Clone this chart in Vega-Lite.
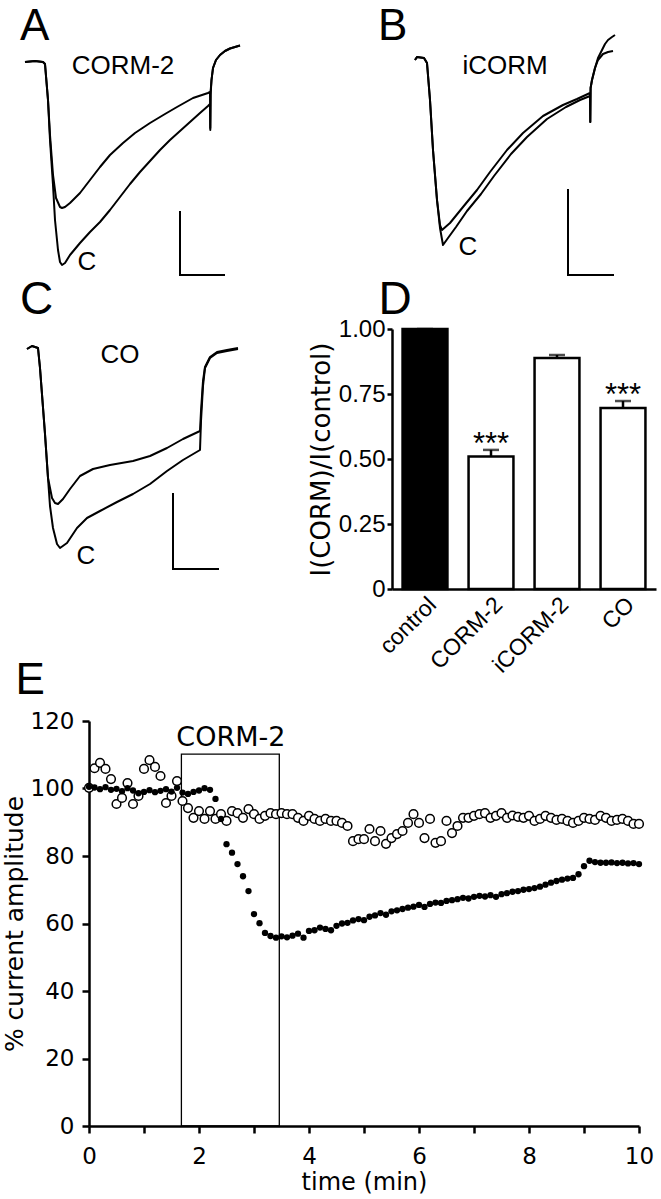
{
"$schema":"https://vega.github.io/schema/vega-lite/v6.json",
"padding":0,
"spacing":0,
"config":{
 "view":{"stroke":null},
 "axis":{"grid":false,"domainColor":"black","tickColor":"black","labelColor":"black","titleColor":"black","titleFontWeight":"normal"}
},
"datasets":{
 "ta":[
  {"s":"control","t":0,"i":0},{"s":"control","t":20,"i":2},{"s":"control","t":36,"i":0},{"s":"control","t":40,"i":-4},{"s":"control","t":46,"i":-76},{"s":"control","t":50,"i":-156},{"s":"control","t":56,"i":-246},{"s":"control","t":60,"i":-316},{"s":"control","t":66,"i":-376},{"s":"control","t":70,"i":-400},{"s":"control","t":74,"i":-406},{"s":"control","t":80,"i":-402},{"s":"control","t":90,"i":-386},{"s":"control","t":110,"i":-362},{"s":"control","t":130,"i":-340},{"s":"control","t":150,"i":-320},{"s":"control","t":170,"i":-296},{"s":"control","t":190,"i":-270},{"s":"control","t":210,"i":-244},{"s":"control","t":230,"i":-220},{"s":"control","t":250,"i":-198},{"s":"control","t":270,"i":-176},{"s":"control","t":290,"i":-156},{"s":"control","t":310,"i":-138},{"s":"control","t":330,"i":-120},{"s":"control","t":350,"i":-102},{"s":"control","t":366,"i":-88},{"s":"control","t":370,"i":-84},{"s":"control","t":370.6,"i":-136},{"s":"control","t":371.2,"i":-66},{"s":"control","t":373,"i":-36},{"s":"control","t":376,"i":-12},{"s":"control","t":382,"i":4},{"s":"control","t":390,"i":14},{"s":"control","t":400,"i":22},{"s":"control","t":410,"i":27},{"s":"control","t":420,"i":30},{"s":"control","t":430,"i":33},
  {"s":"CORM-2","t":0,"i":0},{"s":"CORM-2","t":20,"i":2},{"s":"CORM-2","t":36,"i":0},{"s":"CORM-2","t":40,"i":-4},{"s":"CORM-2","t":46,"i":-76},{"s":"CORM-2","t":50,"i":-146},{"s":"CORM-2","t":56,"i":-226},{"s":"CORM-2","t":62,"i":-272},{"s":"CORM-2","t":70,"i":-290},{"s":"CORM-2","t":74,"i":-292},{"s":"CORM-2","t":80,"i":-290},{"s":"CORM-2","t":90,"i":-282},{"s":"CORM-2","t":110,"i":-262},{"s":"CORM-2","t":130,"i":-236},{"s":"CORM-2","t":150,"i":-210},{"s":"CORM-2","t":170,"i":-186},{"s":"CORM-2","t":196,"i":-162},{"s":"CORM-2","t":220,"i":-142},{"s":"CORM-2","t":250,"i":-122},{"s":"CORM-2","t":280,"i":-104},{"s":"CORM-2","t":304,"i":-90},{"s":"CORM-2","t":336,"i":-72},{"s":"CORM-2","t":366,"i":-62},{"s":"CORM-2","t":370,"i":-60},{"s":"CORM-2","t":370.6,"i":-132},{"s":"CORM-2","t":371.2,"i":-60},{"s":"CORM-2","t":373,"i":-36},{"s":"CORM-2","t":376,"i":-12},{"s":"CORM-2","t":382,"i":4},{"s":"CORM-2","t":390,"i":14},{"s":"CORM-2","t":400,"i":22},{"s":"CORM-2","t":410,"i":27},{"s":"CORM-2","t":420,"i":30},{"s":"CORM-2","t":430,"i":33}
 ],
 "tb":[
  {"s":"control","t":-4,"i":0},{"s":"control","t":0,"i":6},{"s":"control","t":14,"i":4},{"s":"control","t":20,"i":-6},{"s":"control","t":26,"i":-80},{"s":"control","t":32,"i":-180},{"s":"control","t":40,"i":-280},{"s":"control","t":46,"i":-336},{"s":"control","t":52,"i":-370},{"s":"control","t":62,"i":-356},{"s":"control","t":78,"i":-334},{"s":"control","t":100,"i":-302},{"s":"control","t":128,"i":-268},{"s":"control","t":154,"i":-232},{"s":"control","t":188,"i":-188},{"s":"control","t":220,"i":-154},{"s":"control","t":260,"i":-118},{"s":"control","t":298,"i":-94},{"s":"control","t":326,"i":-80},{"s":"control","t":346,"i":-72},{"s":"control","t":346.6,"i":-124},{"s":"control","t":347.2,"i":-56},{"s":"control","t":350,"i":-40},{"s":"control","t":356,"i":-16},{"s":"control","t":362,"i":4},{"s":"control","t":370,"i":20},{"s":"control","t":376,"i":32},{"s":"control","t":382,"i":40},{"s":"control","t":390,"i":46},{"s":"control","t":396,"i":50},
  {"s":"iCORM","t":-4,"i":0},{"s":"iCORM","t":0,"i":6},{"s":"iCORM","t":14,"i":4},{"s":"iCORM","t":20,"i":-6},{"s":"iCORM","t":26,"i":-80},{"s":"iCORM","t":32,"i":-180},{"s":"iCORM","t":40,"i":-280},{"s":"iCORM","t":46,"i":-330},{"s":"iCORM","t":50,"i":-340},{"s":"iCORM","t":66,"i":-326},{"s":"iCORM","t":92,"i":-294},{"s":"iCORM","t":120,"i":-260},{"s":"iCORM","t":146,"i":-224},{"s":"iCORM","t":180,"i":-180},{"s":"iCORM","t":212,"i":-146},{"s":"iCORM","t":252,"i":-112},{"s":"iCORM","t":292,"i":-90},{"s":"iCORM","t":320,"i":-78},{"s":"iCORM","t":346,"i":-66},{"s":"iCORM","t":346.6,"i":-124},{"s":"iCORM","t":347.2,"i":-56},{"s":"iCORM","t":350,"i":-40},{"s":"iCORM","t":356,"i":-16},{"s":"iCORM","t":362,"i":0},{"s":"iCORM","t":372,"i":12},{"s":"iCORM","t":382,"i":16},{"s":"iCORM","t":392,"i":18}
 ],
 "tc":[
  {"s":"control","t":0,"i":0},{"s":"control","t":10,"i":6},{"s":"control","t":22,"i":2},{"s":"control","t":26,"i":-38},{"s":"control","t":36,"i":-170},{"s":"control","t":42,"i":-258},{"s":"control","t":46,"i":-314},{"s":"control","t":52,"i":-358},{"s":"control","t":60,"i":-390},{"s":"control","t":66,"i":-398},{"s":"control","t":80,"i":-388},{"s":"control","t":100,"i":-358},{"s":"control","t":120,"i":-338},{"s":"control","t":146,"i":-324},{"s":"control","t":180,"i":-306},{"s":"control","t":212,"i":-290},{"s":"control","t":246,"i":-270},{"s":"control","t":280,"i":-244},{"s":"control","t":312,"i":-222},{"s":"control","t":346,"i":-202},{"s":"control","t":348,"i":-144},{"s":"control","t":352,"i":-74},{"s":"control","t":356,"i":-38},{"s":"control","t":366,"i":-18},{"s":"control","t":380,"i":-8},{"s":"control","t":400,"i":-4},{"s":"control","t":422,"i":0},
  {"s":"CO","t":0,"i":0},{"s":"CO","t":10,"i":6},{"s":"CO","t":22,"i":2},{"s":"CO","t":26,"i":-38},{"s":"CO","t":36,"i":-170},{"s":"CO","t":42,"i":-258},{"s":"CO","t":50,"i":-298},{"s":"CO","t":56,"i":-308},{"s":"CO","t":62,"i":-310},{"s":"CO","t":72,"i":-300},{"s":"CO","t":86,"i":-280},{"s":"CO","t":106,"i":-254},{"s":"CO","t":132,"i":-240},{"s":"CO","t":166,"i":-232},{"s":"CO","t":212,"i":-224},{"s":"CO","t":246,"i":-214},{"s":"CO","t":280,"i":-198},{"s":"CO","t":312,"i":-180},{"s":"CO","t":346,"i":-164},{"s":"CO","t":348,"i":-124},{"s":"CO","t":352,"i":-64},{"s":"CO","t":356,"i":-36},{"s":"CO","t":366,"i":-16},{"s":"CO","t":380,"i":-6},{"s":"CO","t":400,"i":-2},{"s":"CO","t":422,"i":2}
 ],
 "open":[
  {"t":0,"a":100.2},{"t":0.1,"a":106},{"t":0.2,"a":107.6},{"t":0.3,"a":105.8},{"t":0.4,"a":102.8},{"t":0.5,"a":95.4},{"t":0.6,"a":97.2},{"t":0.7,"a":101.6},{"t":0.8,"a":95.4},{"t":0.9,"a":97.8},
  {"t":1,"a":105.8},{"t":1.1,"a":108.4},{"t":1.2,"a":106.4},{"t":1.3,"a":103.7},{"t":1.4,"a":95.7},{"t":1.5,"a":97.8},{"t":1.6,"a":102.2},{"t":1.7,"a":96.3},{"t":1.8,"a":94.2},{"t":1.9,"a":91.3},
  {"t":2,"a":93.3},{"t":2.1,"a":91},{"t":2.2,"a":93.3},{"t":2.3,"a":91},{"t":2.4,"a":92.4},{"t":2.5,"a":90.4},{"t":2.6,"a":93.3},{"t":2.7,"a":92.7},{"t":2.8,"a":91.3},{"t":2.9,"a":93.9},
  {"t":3,"a":92.4},{"t":3.1,"a":91},{"t":3.2,"a":91.9},{"t":3.3,"a":92.7},{"t":3.4,"a":92.4},{"t":3.5,"a":92.7},{"t":3.6,"a":92.4},{"t":3.7,"a":92.4},{"t":3.8,"a":91.3},{"t":3.9,"a":90.4},
  {"t":4,"a":91.9},{"t":4.1,"a":91},{"t":4.2,"a":90.4},{"t":4.3,"a":91},{"t":4.4,"a":90.4},{"t":4.5,"a":90.4},{"t":4.6,"a":89.8},{"t":4.7,"a":88.9},{"t":4.8,"a":84.4},{"t":4.9,"a":85},
  {"t":5,"a":85},{"t":5.1,"a":88},{"t":5.2,"a":84.4},{"t":5.3,"a":87.4},{"t":5.4,"a":83.6},{"t":5.5,"a":85.3},{"t":5.6,"a":86.5},{"t":5.7,"a":87.4},{"t":5.8,"a":89.8},{"t":5.9,"a":92.4},
  {"t":6,"a":89.8},{"t":6.1,"a":85.3},{"t":6.2,"a":91},{"t":6.3,"a":83.9},{"t":6.4,"a":84.4},{"t":6.5,"a":90.4},{"t":6.6,"a":86.8},{"t":6.7,"a":88.9},{"t":6.8,"a":91.3},{"t":6.9,"a":91.3},
  {"t":7,"a":91.9},{"t":7.1,"a":92.4},{"t":7.2,"a":92.7},{"t":7.3,"a":91.3},{"t":7.4,"a":91.9},{"t":7.5,"a":92.7},{"t":7.6,"a":91.3},{"t":7.7,"a":92},{"t":7.8,"a":91.6},{"t":7.9,"a":91.3},
  {"t":8,"a":91.9},{"t":8.1,"a":90.4},{"t":8.2,"a":91},{"t":8.3,"a":91.9},{"t":8.4,"a":91.3},{"t":8.5,"a":90.7},{"t":8.6,"a":91},{"t":8.7,"a":90.4},{"t":8.8,"a":89.8},{"t":8.9,"a":90.4},
  {"t":9,"a":91.3},{"t":9.1,"a":91},{"t":9.2,"a":90.7},{"t":9.3,"a":91.9},{"t":9.4,"a":91.3},{"t":9.5,"a":90.4},{"t":9.6,"a":90.7},{"t":9.7,"a":91},{"t":9.8,"a":90.4},{"t":9.9,"a":89.5},{"t":10,"a":89.5}
 ],
 "filled":[
  {"t":0,"a":100.5},{"t":0.1,"a":100.3},{"t":0.2,"a":99.8},{"t":0.3,"a":100.4},{"t":0.4,"a":99.6},{"t":0.5,"a":99.9},{"t":0.6,"a":99.2},{"t":0.7,"a":100.1},{"t":0.8,"a":99.4},{"t":0.9,"a":98.6},
  {"t":1,"a":99},{"t":1.1,"a":99.5},{"t":1.2,"a":98.9},{"t":1.3,"a":99.3},{"t":1.4,"a":99.8},{"t":1.5,"a":99.1},{"t":1.6,"a":100.2},{"t":1.7,"a":98.8},{"t":1.8,"a":98.4},{"t":1.9,"a":99},
  {"t":2,"a":99.4},{"t":2.1,"a":100.1},{"t":2.2,"a":99.6},{"t":2.3,"a":96.9},{"t":2.4,"a":91},{"t":2.5,"a":83.5},{"t":2.6,"a":81},{"t":2.7,"a":77.6},{"t":2.8,"a":74},{"t":2.9,"a":69.6},
  {"t":3,"a":62.8},{"t":3.1,"a":60.1},{"t":3.2,"a":57.2},{"t":3.3,"a":56.3},{"t":3.4,"a":55.8},{"t":3.5,"a":56.2},{"t":3.6,"a":55.9},{"t":3.7,"a":56.4},{"t":3.8,"a":57},{"t":3.9,"a":55.8},
  {"t":4,"a":57.8},{"t":4.1,"a":58},{"t":4.2,"a":58.8},{"t":4.3,"a":58.4},{"t":4.4,"a":58},{"t":4.5,"a":59.3},{"t":4.6,"a":60},{"t":4.7,"a":60.2},{"t":4.8,"a":60.9},{"t":4.9,"a":61.3},
  {"t":5,"a":61},{"t":5.1,"a":62},{"t":5.2,"a":62.4},{"t":5.3,"a":63.1},{"t":5.4,"a":62.6},{"t":5.5,"a":63.6},{"t":5.6,"a":63.9},{"t":5.7,"a":64.3},{"t":5.8,"a":64.7},{"t":5.9,"a":65},
  {"t":6,"a":65.5},{"t":6.1,"a":64.9},{"t":6.2,"a":65.8},{"t":6.3,"a":66.2},{"t":6.4,"a":66.1},{"t":6.5,"a":66.7},{"t":6.6,"a":66.9},{"t":6.7,"a":67.2},{"t":6.8,"a":67.6},{"t":6.9,"a":67.4},
  {"t":7,"a":67.9},{"t":7.1,"a":68.2},{"t":7.2,"a":68},{"t":7.3,"a":68.4},{"t":7.4,"a":67.9},{"t":7.5,"a":68.7},{"t":7.6,"a":69},{"t":7.7,"a":69.4},{"t":7.8,"a":69.6},{"t":7.9,"a":70},
  {"t":8,"a":70.2},{"t":8.1,"a":70.5},{"t":8.2,"a":70.9},{"t":8.3,"a":71.5},{"t":8.4,"a":72.1},{"t":8.5,"a":72.6},{"t":8.6,"a":73},{"t":8.7,"a":73.3},{"t":8.8,"a":73.5},{"t":8.9,"a":74.6},
  {"t":9,"a":77},{"t":9.1,"a":78.6},{"t":9.2,"a":78.2},{"t":9.3,"a":78},{"t":9.4,"a":78},{"t":9.5,"a":78.1},{"t":9.6,"a":77.9},{"t":9.7,"a":78},{"t":9.8,"a":77.8},{"t":9.9,"a":77.9},{"t":10,"a":77.6}
 ]
},
"vconcat":[
 {"hconcat":[
  {
   "width":330,"height":276,
   "data":{"values":[{}]},
   "layer":[
    {"data":{"name":"ta"},"mark":{"type":"line","color":"black","strokeWidth":2,"strokeJoin":"round"},
     "encoding":{"x":{"field":"t","type":"quantitative","scale":{"domain":[-50,610],"nice":false,"zero":false},"axis":null},
      "y":{"field":"i","type":"quantitative","scale":{"domain":[-428,124],"nice":false,"zero":false},"axis":null},
      "detail":{"field":"s"}}},
    {"mark":{"type":"rule","color":"black","strokeWidth":2,"strokeCap":"square"},
     "encoding":{"x":{"datum":310,"type":"quantitative","scale":{"domain":[-50,610],"nice":false,"zero":false},"axis":null},"x2":{"datum":310},
      "y":{"datum":-300,"type":"quantitative","scale":{"domain":[-428,124],"nice":false,"zero":false},"axis":null},"y2":{"datum":-426}}},
    {"mark":{"type":"rule","color":"black","strokeWidth":2,"strokeCap":"square"},
     "encoding":{"x":{"datum":310,"type":"quantitative","scale":{"domain":[-50,610],"nice":false,"zero":false},"axis":null},"x2":{"datum":398},
      "y":{"datum":-426,"type":"quantitative","scale":{"domain":[-428,124],"nice":false,"zero":false},"axis":null},"y2":{"datum":-426}}},
    {"mark":{"type":"text","font":"Liberation Sans","fontSize":44,"align":"left","baseline":"alphabetic","color":"black"},
     "encoding":{"x":{"datum":-10,"type":"quantitative","scale":{"domain":[-50,610],"nice":false,"zero":false},"axis":null},
      "y":{"datum":44,"type":"quantitative","scale":{"domain":[-428,124],"nice":false,"zero":false},"axis":null},"text":{"value":"A"}}},
    {"mark":{"type":"text","font":"Liberation Sans","fontSize":26,"align":"center","baseline":"alphabetic","color":"black"},
     "encoding":{"x":{"datum":196,"type":"quantitative","scale":{"domain":[-50,610],"nice":false,"zero":false},"axis":null},
      "y":{"datum":-24,"type":"quantitative","scale":{"domain":[-428,124],"nice":false,"zero":false},"axis":null},"text":{"value":"CORM-2"}}},
    {"mark":{"type":"text","font":"Liberation Sans","fontSize":26,"align":"center","baseline":"alphabetic","color":"black"},
     "encoding":{"x":{"datum":124,"type":"quantitative","scale":{"domain":[-50,610],"nice":false,"zero":false},"axis":null},
      "y":{"datum":-416,"type":"quantitative","scale":{"domain":[-428,124],"nice":false,"zero":false},"axis":null},"text":{"value":"C"}}}
   ]
  },
  {
   "width":331,"height":276,
   "data":{"values":[{}]},
   "layer":[
    {"data":{"name":"tb"},"mark":{"type":"line","color":"black","strokeWidth":2,"strokeJoin":"round"},
     "encoding":{"x":{"field":"t","type":"quantitative","scale":{"domain":[-174,488],"nice":false,"zero":false},"axis":null},
      "y":{"field":"i","type":"quantitative","scale":{"domain":[-432,120],"nice":false,"zero":false},"axis":null},
      "detail":{"field":"s"}}},
    {"mark":{"type":"rule","color":"black","strokeWidth":2,"strokeCap":"square"},
     "encoding":{"x":{"datum":302,"type":"quantitative","scale":{"domain":[-174,488],"nice":false,"zero":false},"axis":null},"x2":{"datum":302},
      "y":{"datum":-260,"type":"quantitative","scale":{"domain":[-432,120],"nice":false,"zero":false},"axis":null},"y2":{"datum":-430}}},
    {"mark":{"type":"rule","color":"black","strokeWidth":2,"strokeCap":"square"},
     "encoding":{"x":{"datum":302,"type":"quantitative","scale":{"domain":[-174,488],"nice":false,"zero":false},"axis":null},"x2":{"datum":392},
      "y":{"datum":-430,"type":"quantitative","scale":{"domain":[-432,120],"nice":false,"zero":false},"axis":null},"y2":{"datum":-430}}},
    {"mark":{"type":"text","font":"Liberation Sans","fontSize":44,"align":"left","baseline":"alphabetic","color":"black"},
     "encoding":{"x":{"datum":-78,"type":"quantitative","scale":{"domain":[-174,488],"nice":false,"zero":false},"axis":null},
      "y":{"datum":40,"type":"quantitative","scale":{"domain":[-432,120],"nice":false,"zero":false},"axis":null},"text":{"value":"B"}}},
    {"mark":{"type":"text","font":"Liberation Sans","fontSize":26,"align":"center","baseline":"alphabetic","color":"black"},
     "encoding":{"x":{"datum":176,"type":"quantitative","scale":{"domain":[-174,488],"nice":false,"zero":false},"axis":null},
      "y":{"datum":-28,"type":"quantitative","scale":{"domain":[-432,120],"nice":false,"zero":false},"axis":null},"text":{"value":"iCORM"}}},
    {"mark":{"type":"text","font":"Liberation Sans","fontSize":26,"align":"center","baseline":"alphabetic","color":"black"},
     "encoding":{"x":{"datum":102,"type":"quantitative","scale":{"domain":[-174,488],"nice":false,"zero":false},"axis":null},
      "y":{"datum":-390,"type":"quantitative","scale":{"domain":[-432,120],"nice":false,"zero":false},"axis":null},"text":{"value":"C"}}}
   ]
  }
 ],"spacing":0,"bounds":"flush"},
 {"hconcat":[
  {
   "width":392,"height":381,
   "data":{"values":[{}]},
   "layer":[
    {"data":{"name":"tc"},"mark":{"type":"line","color":"black","strokeWidth":2,"strokeJoin":"round"},
     "encoding":{"x":{"field":"t","type":"quantitative","scale":{"domain":[-54,730],"nice":false,"zero":false},"axis":null},
      "y":{"field":"i","type":"quantitative","scale":{"domain":[-722,40],"nice":false,"zero":false},"axis":null},
      "detail":{"field":"s"}}},
    {"mark":{"type":"rule","color":"black","strokeWidth":2,"strokeCap":"square"},
     "encoding":{"x":{"datum":292,"type":"quantitative","scale":{"domain":[-54,730],"nice":false,"zero":false},"axis":null},"x2":{"datum":292},
      "y":{"datum":-290,"type":"quantitative","scale":{"domain":[-722,40],"nice":false,"zero":false},"axis":null},"y2":{"datum":-440}}},
    {"mark":{"type":"rule","color":"black","strokeWidth":2,"strokeCap":"square"},
     "encoding":{"x":{"datum":292,"type":"quantitative","scale":{"domain":[-54,730],"nice":false,"zero":false},"axis":null},"x2":{"datum":382},
      "y":{"datum":-440,"type":"quantitative","scale":{"domain":[-722,40],"nice":false,"zero":false},"axis":null},"y2":{"datum":-440}}},
    {"mark":{"type":"text","font":"Liberation Sans","fontSize":46,"align":"left","baseline":"alphabetic","color":"black"},
     "encoding":{"x":{"datum":-14,"type":"quantitative","scale":{"domain":[-54,730],"nice":false,"zero":false},"axis":null},
      "y":{"datum":70,"type":"quantitative","scale":{"domain":[-722,40],"nice":false,"zero":false},"axis":null},"text":{"value":"C"}}},
    {"mark":{"type":"text","font":"Liberation Sans","fontSize":46,"align":"left","baseline":"alphabetic","color":"black"},
     "encoding":{"x":{"datum":703,"type":"quantitative","scale":{"domain":[-54,730],"nice":false,"zero":false},"axis":null},
      "y":{"datum":70,"type":"quantitative","scale":{"domain":[-722,40],"nice":false,"zero":false},"axis":null},"text":{"value":"D"}}},
    {"mark":{"type":"text","font":"Liberation Sans","fontSize":44,"align":"left","baseline":"alphabetic","color":"black"},
     "encoding":{"x":{"datum":-23,"type":"quantitative","scale":{"domain":[-54,730],"nice":false,"zero":false},"axis":null},
      "y":{"datum":-690,"type":"quantitative","scale":{"domain":[-722,40],"nice":false,"zero":false},"axis":null},"text":{"value":"E"}}},
    {"mark":{"type":"text","font":"Liberation Sans","fontSize":26,"align":"center","baseline":"alphabetic","color":"black"},
     "encoding":{"x":{"datum":186,"type":"quantitative","scale":{"domain":[-54,730],"nice":false,"zero":false},"axis":null},
      "y":{"datum":-28,"type":"quantitative","scale":{"domain":[-722,40],"nice":false,"zero":false},"axis":null},"text":{"value":"CO"}}},
    {"mark":{"type":"text","font":"Liberation Sans","fontSize":26,"align":"center","baseline":"alphabetic","color":"black"},
     "encoding":{"x":{"datum":118,"type":"quantitative","scale":{"domain":[-54,730],"nice":false,"zero":false},"axis":null},
      "y":{"datum":-430,"type":"quantitative","scale":{"domain":[-722,40],"nice":false,"zero":false},"axis":null},"text":{"value":"C"}}}
   ]
  },
  {
   "width":264,"height":260,
   "data":{"values":[
    {"cond":"control","mean":1.0,"hi":1.0,"sig":""},
    {"cond":"CORM-2","mean":0.51,"hi":0.535,"sig":"***"},
    {"cond":"iCORM-2","mean":0.888,"hi":0.9,"sig":""},
    {"cond":"CO","mean":0.696,"hi":0.723,"sig":"***"}
   ]},
   "encoding":{"x":{"field":"cond","type":"nominal","sort":null,"scale":{"paddingInner":0.32,"paddingOuter":0.16},
     "axis":{"title":null,"labelAngle":-45,"ticks":false,"labelFont":"Liberation Sans","labelFontSize":23,"labelPadding":4,"domainWidth":2.5}}},
   "layer":[
    {"mark":{"type":"bar","stroke":"black","strokeWidth":2.5},
     "encoding":{"y":{"field":"mean","type":"quantitative","scale":{"domain":[0,1],"nice":false},
       "axis":{"values":[0,0.25,0.5,0.75,1],"labelExpr":"datum.value === 0 ? '0' : format(datum.value, '.2f')","title":"I(CORM)/I(control)","titleFont":"DejaVu Sans","titleFontSize":26,"titlePadding":4,"labelFont":"Liberation Sans","labelFontSize":24,"labelPadding":2,"tickSize":5,"tickWidth":2.5,"domainWidth":2.5}},
      "fill":{"field":"cond","type":"nominal","scale":{"domain":["control","CORM-2","iCORM-2","CO"],"range":["black","white","white","white"]},"legend":null}}},
    {"mark":{"type":"rule","color":"black","strokeWidth":2.5},
     "encoding":{"y":{"field":"mean","type":"quantitative"},"y2":{"field":"hi"}}},
    {"mark":{"type":"tick","color":"black","thickness":2.5,"size":16},
     "encoding":{"y":{"field":"hi","type":"quantitative"}}},
    {"mark":{"type":"text","color":"black","font":"Liberation Sans","fontSize":31,"baseline":"alphabetic","dy":4},
     "encoding":{"y":{"field":"hi","type":"quantitative"},"text":{"field":"sig"}}}
   ]
  }
 ],"spacing":0,"bounds":"flush"},
 {"hconcat":[
  {
   "width":89,"height":405,
   "data":{"values":[{"z":0}]},
   "mark":{"type":"point","opacity":0},
   "encoding":{}
  },
  {
   "width":550,"height":405,
   "layer":[
    {"data":{"values":[{"from":1.68,"to":3.46,"lo":0,"top":110.2}]},
     "mark":{"type":"rect","filled":false,"color":"black","strokeWidth":1.3},
     "encoding":{"x":{"field":"from","type":"quantitative","scale":{"domain":[0,10],"nice":false},
        "axis":{"values":[0,1,2,3,4,5,6,7,8,9,10],"labelExpr":"datum.value % 2 === 0 ? datum.label : ''","title":"time (min)","titleFont":"DejaVu Sans","titleFontSize":24,"titlePadding":2,"labelFont":"DejaVu Sans","labelFontSize":23,"labelPadding":12,"labelFlush":false,"labelOverlap":false,"tickSize":7,"tickWidth":2.5,"domainWidth":2.5}},
      "x2":{"field":"to"},
      "y":{"field":"lo","type":"quantitative","scale":{"domain":[0,120],"nice":false},
        "axis":{"values":[0,20,40,60,80,100,120],"title":"% current amplitude","titleFont":"DejaVu Sans","titleFontSize":25,"titlePadding":3,"labelFont":"DejaVu Sans","labelFontSize":23,"labelPadding":8,"labelOverlap":false,"tickSize":7,"tickWidth":2.5,"domainWidth":2.5}},
      "y2":{"field":"top"}}},
    {"data":{"values":[{}]},
     "mark":{"type":"text","font":"DejaVu Sans","fontSize":27,"align":"center","baseline":"alphabetic","color":"black"},
     "encoding":{"x":{"datum":2.58,"type":"quantitative"},"y":{"datum":112.6,"type":"quantitative"},"text":{"value":"CORM-2"}}},
    {"data":{"name":"open"},
     "mark":{"type":"point","shape":"circle","filled":true,"fill":"white","stroke":"black","strokeWidth":1.5,"size":75,"opacity":1},
     "encoding":{"x":{"field":"t","type":"quantitative"},"y":{"field":"a","type":"quantitative"}}},
    {"data":{"name":"filled"},
     "mark":{"type":"point","shape":"circle","filled":true,"color":"black","size":40,"opacity":1},
     "encoding":{"x":{"field":"t","type":"quantitative"},"y":{"field":"a","type":"quantitative"}}}
   ]
  }
 ],"spacing":0,"bounds":"flush"}
]
}
